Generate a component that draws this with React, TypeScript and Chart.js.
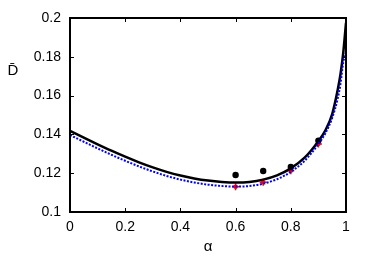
import React, { useEffect, useRef } from "react";
import { Chart, registerables } from "chart.js";

Chart.register(...registerables);

const alphaGrid = [0, 0.05, 0.1, 0.15, 0.2, 0.25, 0.3, 0.35, 0.4, 0.45, 0.5, 0.55, 0.6, 0.65, 0.7, 0.75, 0.8, 0.85, 0.9, 0.925, 0.95, 0.97, 0.98, 0.99, 1.0];
const blackCurve = [0.1418, 0.1383, 0.1349, 0.1316, 0.1285, 0.1256, 0.123, 0.1207, 0.1188, 0.1173, 0.1162, 0.1155, 0.1152, 0.1155, 0.1167, 0.1189, 0.1225, 0.128, 0.1365, 0.142, 0.1505, 0.163, 0.171, 0.182, 0.1975];
const blueCurve = [0.1397, 0.1362, 0.1328, 0.1295, 0.1264, 0.1235, 0.1209, 0.1186, 0.1167, 0.1152, 0.1141, 0.1134, 0.1131, 0.1134, 0.1146, 0.1169, 0.1207, 0.1264, 0.135, 0.1405, 0.1485, 0.1585, 0.166, 0.177, 0.1825];

const dotAlpha = [0.6, 0.7, 0.8, 0.9];
const blackDots = [0.1191, 0.1211, 0.1232, 0.1368];
const redDots = [0.113, 0.1153, 0.1213, 0.1351];

const xTicks = [0, 0.2, 0.4, 0.6, 0.8, 1];
const yTicks = [0.1, 0.12, 0.14, 0.16, 0.18, 0.2];

const FONT = "'Liberation Sans', Arial, Helvetica, sans-serif";

export default function App() {
  const ref = useRef<HTMLCanvasElement | null>(null);
  useEffect(() => {
    if (!ref.current) return;
    const framePlugin = {
      id: "frame",
      afterDraw(chart: any) {
        const { ctx, chartArea: a, scales } = chart;
        ctx.save();
        ctx.strokeStyle = "#000";
        ctx.lineWidth = 1;
        const tl = 4;
        xTicks.forEach((v) => {
          const px = Math.round(scales.x.getPixelForValue(v)) + 0.5;
          ctx.beginPath();
          ctx.moveTo(px, a.bottom);
          ctx.lineTo(px, a.bottom - tl);
          ctx.moveTo(px, a.top);
          ctx.lineTo(px, a.top + tl);
          ctx.stroke();
        });
        yTicks.forEach((v) => {
          const py = Math.round(scales.y.getPixelForValue(v)) + 0.5;
          ctx.beginPath();
          ctx.moveTo(a.left, py);
          ctx.lineTo(a.left + tl, py);
          ctx.moveTo(a.right, py);
          ctx.lineTo(a.right - tl, py);
          ctx.stroke();
        });
        ctx.lineWidth = 2;
        ctx.strokeRect(a.left, a.top, a.right - a.left, a.bottom - a.top);
        ctx.fillStyle = "#000";
        ctx.font = `15px ${FONT}`;
        ctx.textAlign = "center";
        ctx.textBaseline = "middle";
        ctx.fillText("\u03b1", (a.left + a.right) / 2, 247);
        ctx.fillText("D\u0304", 13, 71);
        ctx.restore();
      },
    };
    const chart = new Chart(ref.current, {
      type: "line",
      data: {
        datasets: [
          {
            data: alphaGrid.map((x, i) => ({ x, y: blueCurve[i] })),
            borderColor: "#0000ff",
            borderWidth: 2,
            borderDash: [2, 1.5],
            pointRadius: 0,
            cubicInterpolationMode: "monotone",
            fill: false,
          },
          {
            data: alphaGrid.map((x, i) => ({ x, y: blackCurve[i] })),
            borderColor: "#000",
            borderWidth: 2.5,
            pointRadius: 0,
            cubicInterpolationMode: "monotone",
            fill: false,
          },
          {
            data: dotAlpha.map((x, i) => ({ x, y: blackDots[i] })),
            showLine: false,
            pointRadius: 3.2,
            pointBackgroundColor: "#000",
            pointBorderColor: "#000",
            pointBorderWidth: 0,
          },
          {
            data: dotAlpha.map((x, i) => ({ x, y: redDots[i] })),
            showLine: false,
            pointRadius: 2.2,
            pointBackgroundColor: "#ff0000",
            pointBorderColor: "#ff0000",
            pointBorderWidth: 0,
          },
          {
            data: dotAlpha.map((x, i) => ({ x, y: redDots[i] })),
            showLine: false,
            pointStyle: "cross",
            pointRadius: 3.5,
            pointBorderColor: "#ff0000",
            pointBorderWidth: 1.5,
          },
        ],
      },
      options: {
        animation: false,
        responsive: false,
        maintainAspectRatio: false,
        layout: { padding: { left: 0, top: 18, right: 28, bottom: 0 } },
        plugins: { legend: { display: false }, tooltip: { enabled: false } },
        scales: {
          x: {
            type: "linear",
            min: 0,
            max: 1,
            afterFit: (s: any) => { s.height = 50; },
            afterBuildTicks: (s: any) => { s.ticks = xTicks.map((v) => ({ value: v })); },
            grid: { display: false, drawTicks: false },
            border: { display: false },
            ticks: {
              padding: 7,
              color: "#000",
              font: { family: FONT, size: 14 },
              callback: (v: any) => String(+Number(v).toFixed(2)),
            },
          },
          y: {
            type: "linear",
            min: 0.1,
            max: 0.2,
            afterFit: (s: any) => { s.width = 70; },
            afterBuildTicks: (s: any) => { s.ticks = yTicks.map((v) => ({ value: v })); },
            grid: { display: false, drawTicks: false },
            border: { display: false },
            ticks: {
              padding: 9,
              color: "#000",
              font: { family: FONT, size: 14 },
              callback: (v: any) => String(+Number(v).toFixed(2)),
            },
          },
        },
      },
      plugins: [framePlugin],
    } as any);
    return () => chart.destroy();
  }, []);
  return (
    <div style={{ position: "fixed", left: 0, top: 0, width: 374, height: 262, background: "#fff" }}>
      <canvas ref={ref} width={374} height={262} style={{ display: "block" }} />
    </div>
  );
}
